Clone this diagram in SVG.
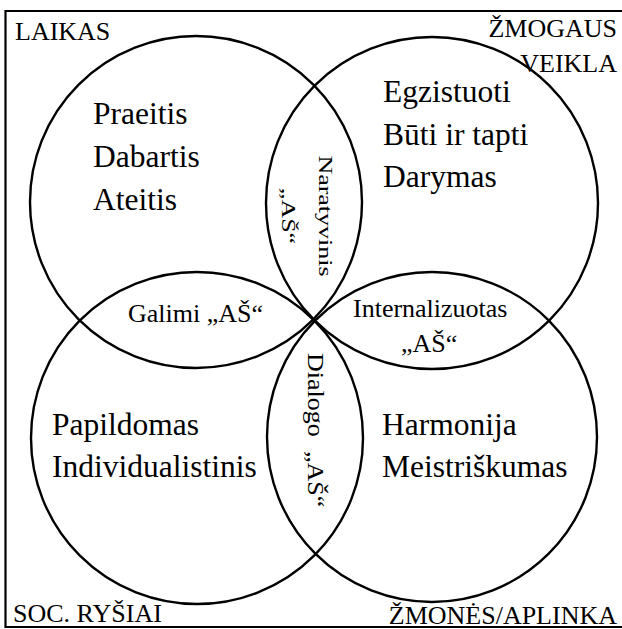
<svg xmlns="http://www.w3.org/2000/svg" width="622" height="629" viewBox="0 0 622 629" font-family="'Liberation Serif', 'Times New Roman', Times, serif">
<style>
text{font-family:'Liberation Serif','Times New Roman',Times,serif;fill:#000}
.big{font-size:31.5px}
.lbl{font-size:26px}
.c{fill:none;stroke:#000;stroke-width:2.4}
</style>
<rect x="0" y="0" width="622" height="629" fill="#fff"/>
<g id="frame">
<path d="M640,11 H5.5 V627 H640" fill="none" stroke="#000" stroke-width="2.2"/>
</g>
<g id="connectors"></g>
<g id="laikas">
<circle class="c" cx="196" cy="202" r="166"/>
<text class="lbl" x="15" y="40">LAIKAS</text>
<text class="big" x="93" y="124">Praeitis</text>
<text class="big" x="93" y="167">Dabartis</text>
<text class="big" x="93" y="210">Ateitis</text>
</g>
<g id="zmogaus-veikla">
<circle class="c" cx="432" cy="203" r="166"/>
<text class="lbl" x="617" y="37" text-anchor="end">ŽMOGAUS</text>
<text class="lbl" x="617" y="72" text-anchor="end">VEIKLA</text>
<text class="big" x="383" y="102">Egzistuoti</text>
<text class="big" x="383" y="145">Būti ir tapti</text>
<text class="big" x="383" y="187">Darymas</text>
</g>
<g id="soc-rysiai">
<circle class="c" cx="197" cy="438" r="166"/>
<text class="lbl" x="13" y="622">SOC. RYŠIAI</text>
<text class="big" x="52" y="435">Papildomas</text>
<text class="big" x="52" y="477">Individualistinis</text>
</g>
<g id="zmones-aplinka">
<circle class="c" cx="432" cy="437" r="165"/>
<text class="lbl" x="617" y="624" text-anchor="end">ŽMONĖS/APLINKA</text>
<text class="big" x="382" y="435">Harmonija</text>
<text class="big" x="382" y="477">Meistriškumas</text>
</g>
<g id="galimi">
<text class="lbl" x="128" y="322">Galimi „AŠ“</text>
</g>
<g id="internalizuotas">
<text class="lbl" x="353" y="317">Internalizuotas</text>
<text class="lbl" x="401" y="352">„AŠ“</text>
</g>
<g id="naratyvinis">
<text class="lbl" transform="translate(319,216) rotate(90) scale(1,0.72)" text-anchor="middle">Naratyvinis<tspan x="0" dy="51.4">„AŠ“</tspan></text>
</g>
<g id="dialogo">
<text class="lbl" transform="translate(308,353) rotate(90) scale(1,0.87)">Dialogo <tspan x="98">„AŠ“</tspan></text>
</g>
</svg>
